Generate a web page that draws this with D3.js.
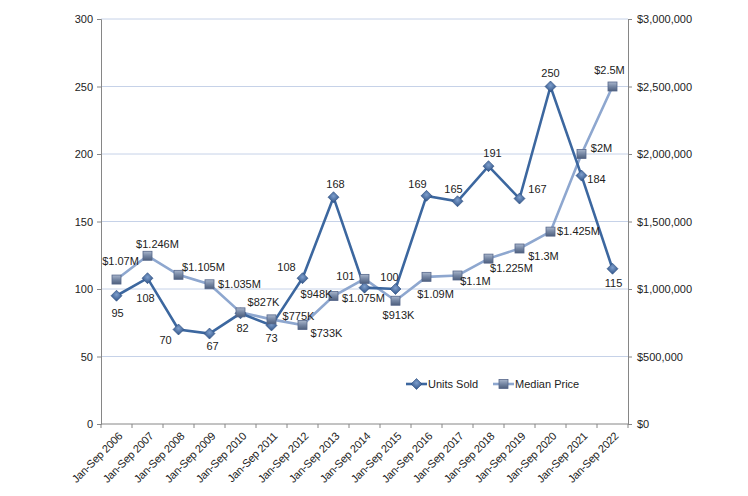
<!DOCTYPE html>
<html>
<head>
<meta charset="utf-8">
<script src="https://cdn.jsdelivr.net/npm/d3@7"></script>
<style>
  body { margin: 0; background: #fff; }
  svg { display: block; font-family: "Liberation Sans", Arial, sans-serif; }
</style>
</head>
<body>
<svg id="chart" width="748" height="496"></svg>
<script>
const years = ['Jan-Sep 2006', 'Jan-Sep 2007', 'Jan-Sep 2008', 'Jan-Sep 2009', 'Jan-Sep 2010', 'Jan-Sep 2011',
  'Jan-Sep 2012', 'Jan-Sep 2013', 'Jan-Sep 2014', 'Jan-Sep 2015', 'Jan-Sep 2016', 'Jan-Sep 2017',
  'Jan-Sep 2018', 'Jan-Sep 2019', 'Jan-Sep 2020', 'Jan-Sep 2021', 'Jan-Sep 2022'];
const unitsSold = [95, 108, 70, 67, 82, 73, 108, 168, 101, 100, 169, 165, 191, 167, 250, 184, 115];
const medianPrice = [1070000, 1246000, 1105000, 1035000, 827000, 775000, 733000, 948000, 1075000, 913000,
  1090000, 1100000, 1225000, 1300000, 1425000, 2000000, 2500000];
const priceLabels = ['$1.07M', '$1.246M', '$1.105M', '$1.035M', '$827K', '$775K', '$733K', '$948K', '$1.075M',
  '$913K', '$1.09M', '$1.1M', '$1.225M', '$1.3M', '$1.425M', '$2M', '$2.5M'];
const leftTicks = [0, 50, 100, 150, 200, 250, 300];
const rightTicks = [0, 500000, 1000000, 1500000, 2000000, 2500000, 3000000];

// label offsets from each marker (dx, dy) -- where Excel put them
const unitOffsets = [[1, 17], [-2, 20], [-13, 11], [3, 13], [2, 15], [0, 13], [-16, -11], [2, -13], [-19, -12],
  [-6, -12], [-9, -12], [-4, -12], [4, -13], [18, -9], [0, -13], [15, 4], [1, 14]];
const priceOffsets = [[4, -18], [10, -12], [25, -8], [30, 0], [23, -10], [27, -3], [24, 8], [-17, -2], [-1, 19],
  [3, 14], [9, 17], [18, 6], [23, 10], [24, 8], [28, 0], [20, -6], [-3, -16]];

const svg = d3.select("#chart");
const plotLeft = 101, plotRight = 628, plotTop = 19, plotBottom = 424;

const x = d3.scaleBand().domain(years).range([plotLeft, plotRight]);
const yL = d3.scaleLinear().domain([0, 300]).range([plotBottom, plotTop]);
const yR = d3.scaleLinear().domain([0, 3000000]).range([plotBottom, plotTop]);
const cx = d => x(d) + x.bandwidth() / 2;

// gradients for the markers
const defs = svg.append("defs");
const dg = defs.append("radialGradient").attr("id", "diamondGrad").attr("cx", "50%").attr("cy", "40%").attr("r", "60%");
dg.append("stop").attr("offset", "0%").attr("stop-color", "#7f9fcc");
dg.append("stop").attr("offset", "100%").attr("stop-color", "#2d5186");
const sg = defs.append("linearGradient").attr("id", "squareGrad").attr("x1", 0).attr("y1", 0).attr("x2", 0).attr("y2", 1);
sg.append("stop").attr("offset", "0%").attr("stop-color", "#a9b6cc");
sg.append("stop").attr("offset", "50%").attr("stop-color", "#7586a3");
sg.append("stop").attr("offset", "100%").attr("stop-color", "#4e5f7d");

// gridlines
svg.append("g").selectAll("line")
  .data(leftTicks.filter(t => t > 0))
  .join("line")
  .attr("x1", plotLeft).attr("x2", plotRight)
  .attr("y1", d => yL(d)).attr("y2", d => yL(d))
  .attr("stroke", "#c6d2e8").attr("stroke-width", 1);

// left axis
const axL = svg.append("g").attr("transform", `translate(${plotLeft},0)`)
  .call(d3.axisLeft(yL).tickValues(leftTicks).tickSize(4).tickPadding(4));
axL.select(".domain").attr("stroke", "#868686");
axL.selectAll(".tick line").attr("stroke", "#868686");
axL.selectAll("text").attr("font-size", 11).attr("fill", "#222");

// right axis
const axR = svg.append("g").attr("transform", `translate(${plotRight},0)`)
  .call(d3.axisRight(yR).tickValues(rightTicks).tickSize(4).tickPadding(5)
    .tickFormat(d => "$" + d3.format(",")(d)));
axR.select(".domain").attr("stroke", "#868686");
axR.selectAll(".tick line").attr("stroke", "#868686");
axR.selectAll("text").attr("font-size", 11).attr("fill", "#222");

// bottom axis, ticks between categories
svg.append("line").attr("x1", plotLeft).attr("x2", plotRight).attr("y1", plotBottom).attr("y2", plotBottom)
  .attr("stroke", "#868686");
svg.append("g").selectAll("line")
  .data(years.concat(["end"]))
  .join("line")
  .attr("x1", (d, i) => plotLeft + i * x.bandwidth())
  .attr("x2", (d, i) => plotLeft + i * x.bandwidth())
  .attr("y1", plotBottom).attr("y2", plotBottom + 4)
  .attr("stroke", "#868686");
svg.append("g").selectAll("text")
  .data(years)
  .join("text")
  .attr("transform", d => `translate(${cx(d) + 4},${plotBottom + 10}) rotate(-45)`)
  .attr("text-anchor", "end")
  .attr("dy", "0.35em")
  .attr("font-size", 11)
  .attr("letter-spacing", -0.2)
  .attr("fill", "#222")
  .text(d => d);

// lines
svg.append("path")
  .datum(medianPrice)
  .attr("fill", "none").attr("stroke", "#8ea7cf").attr("stroke-width", 2.6)
  .attr("d", d3.line().x((d, i) => cx(years[i])).y(d => yR(d)));
svg.append("path")
  .datum(unitsSold)
  .attr("fill", "none").attr("stroke", "#3c679f").attr("stroke-width", 2.6)
  .attr("d", d3.line().x((d, i) => cx(years[i])).y(d => yL(d)));

const diamond = "M0,-5.5L5.5,0L0,5.5L-5.5,0Z";

// markers
svg.append("g").selectAll("path")
  .data(unitsSold)
  .join("path")
  .attr("transform", (d, i) => `translate(${cx(years[i])},${yL(d)})`)
  .attr("d", diamond)
  .attr("fill", "url(#diamondGrad)")
  .attr("stroke", "#2b4e80").attr("stroke-width", 0.6);
svg.append("g").selectAll("rect")
  .data(medianPrice)
  .join("rect")
  .attr("x", (d, i) => cx(years[i]) - 4.5)
  .attr("y", d => yR(d) - 4.5)
  .attr("width", 9).attr("height", 9)
  .attr("fill", "url(#squareGrad)")
  .attr("stroke", "#56678a").attr("stroke-width", 0.8);

// data labels
svg.append("g").selectAll("text")
  .data(unitsSold)
  .join("text")
  .attr("x", (d, i) => cx(years[i]) + unitOffsets[i][0])
  .attr("y", (d, i) => yL(d) + unitOffsets[i][1])
  .attr("dy", "0.35em")
  .attr("text-anchor", "middle")
  .attr("font-size", 11).attr("fill", "#222")
  .text(d => d);
svg.append("g").selectAll("text")
  .data(medianPrice)
  .join("text")
  .attr("x", (d, i) => cx(years[i]) + priceOffsets[i][0])
  .attr("y", (d, i) => yR(d) + priceOffsets[i][1])
  .attr("dy", "0.35em")
  .attr("text-anchor", "middle")
  .attr("font-size", 11).attr("fill", "#222")
  .text((d, i) => priceLabels[i]);

// legend
const leg = svg.append("g").attr("transform", "translate(0,384)");
leg.append("line").attr("x1", 406).attr("x2", 427).attr("stroke", "#3c679f").attr("stroke-width", 2.6);
leg.append("path").attr("transform", "translate(416.5,0)").attr("d", diamond)
  .attr("fill", "url(#diamondGrad)").attr("stroke", "#2b4e80").attr("stroke-width", 0.6);
leg.append("text").attr("x", 428).attr("dy", "0.35em").attr("font-size", 11).attr("fill", "#222").text("Units Sold");
leg.append("line").attr("x1", 493).attr("x2", 514).attr("stroke", "#8ea7cf").attr("stroke-width", 2.6);
leg.append("rect").attr("x", 499).attr("y", -4.5).attr("width", 9).attr("height", 9)
  .attr("fill", "url(#squareGrad)").attr("stroke", "#56678a").attr("stroke-width", 0.8);
leg.append("text").attr("x", 515).attr("dy", "0.35em").attr("font-size", 11).attr("fill", "#222").text("Median Price");
</script>
</body>
</html>
